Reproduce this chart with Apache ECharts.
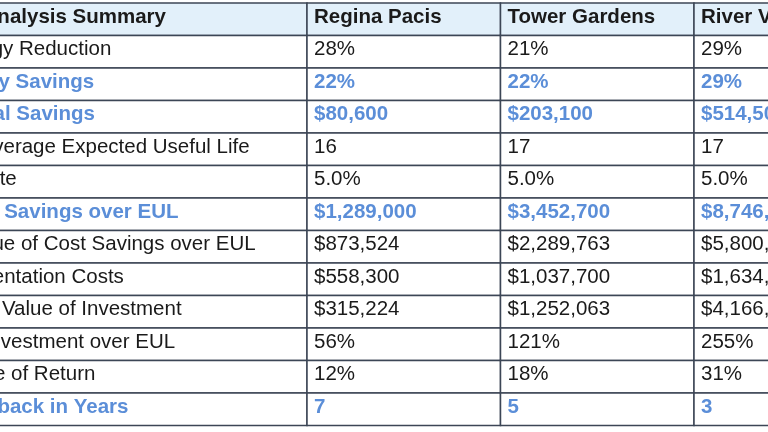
<!DOCTYPE html>
<html>
<head>
<meta charset="utf-8">
<script src="https://cdn.jsdelivr.net/npm/echarts@6/dist/echarts.min.js"></script>
<style>
  html, body { margin: 0; padding: 0; background: #fff; }
  #chart { width: 768px; height: 432px; }
</style>
</head>
<body>
<div id="chart"></div>
<script>
const summaryTitle = "Financial Analysis Summary";
const siteNames = ["Regina Pacis", "Tower Gardens", "River View"];
const rowLabels = [
  "Gross Energy Reduction",
  "Gross Utility Savings",
  "Total Annual Savings",
  "Weighted Average Expected Useful Life",
  "Discount Rate",
  "Cumulative Savings over EUL",
  "Present Value of Cost Savings over EUL",
  "Net Implementation Costs",
  "Net Present Value of Investment",
  "Return on Investment over EUL",
  "Internal Rate of Return",
  "Simple Payback in Years"
];
const rowFormats = ["pct", "pct", "usd", "int", "pct1", "usd", "usd", "usd", "usd", "pct", "pct", "int"];
const highlightRows = [1, 2, 5, 11];
const reginaPacis = [0.28, 0.22, 80600, 16, 0.05, 1289000, 873524, 558300, 315224, 0.56, 0.12, 7];
const towerGardens = [0.21, 0.22, 203100, 17, 0.05, 3452700, 2289763, 1037700, 1252063, 1.21, 0.18, 5];
const riverView = [0.29, 0.29, 514500, 17, 0.05, 8746500, 5800519, 1634300, 4166219, 2.55, 0.31, 3];

const lineColor = "#3c4656";
const headBg = "#e2f0fa";
const blue = "#5b8ed8";
const ink = "#1a1a1a";

function fmt(v, kind) {
  if (kind === "pct") return Math.round(v * 100) + "%";
  if (kind === "pct1") return (v * 100).toFixed(1) + "%";
  if (kind === "usd") return "$" + v.toLocaleString("en-US");
  return String(v);
}

const rowCats = ["head"].concat(rowLabels);
const valueCols = [reginaPacis, towerGardens, riverView];

// label column: [col, row, text, kind]
const labelData = [[0, 0, summaryTitle, "head"]];
rowLabels.forEach((t, i) => labelData.push([0, i + 1, t, highlightRows.includes(i) ? "hl" : "body"]));

const valueData = [];
siteNames.forEach((n, c) => {
  valueData.push([c, 0, n, "head"]);
  valueCols[c].forEach((v, i) => {
    valueData.push([c, i + 1, fmt(v, rowFormats[i]), highlightRows.includes(i) ? "hl" : "body"]);
  });
});

function renderCell(params, api) {
  const c = api.coord([api.value(0), api.value(1)]);
  const s = api.size([1, 1]);
  const item = (params.seriesIndex === 0 ? labelData : valueData)[params.dataIndex];
  const kind = item[3];
  const x0 = c[0] - s[0] / 2;
  const y0 = c[1] - s[1] / 2;
  return {
    type: "group",
    children: [
      {
        type: "rect",
        shape: { x: x0, y: y0, width: s[0], height: s[1] },
        style: { fill: kind === "head" ? headBg : "#fff", stroke: lineColor, lineWidth: 1.5 }
      },
      {
        type: "text",
        style: {
          text: item[2],
          x: x0 + 7,
          y: c[1] - 2,
          align: "left",
          verticalAlign: "middle",
          fontFamily: "Liberation Sans, Arial, sans-serif",
          fontSize: 20.5,
          fontWeight: kind === "body" ? "normal" : "bold",
          fill: kind === "hl" ? blue : ink
        }
      }
    ]
  };
}

const chart = echarts.init(document.getElementById("chart"), null, { renderer: "canvas" });
chart.setOption({
  animation: false,
  backgroundColor: "#fff",
  grid: [
    { left: -119, top: 3, width: 426, height: 422.5, outerBoundsMode: "none", containLabel: false },
    { left: 307, top: 3, width: 580.5, height: 422.5, outerBoundsMode: "none", containLabel: false }
  ],
  xAxis: [
    { type: "category", gridIndex: 0, data: ["label"], show: false },
    { type: "category", gridIndex: 1, data: siteNames, show: false }
  ],
  yAxis: [
    { type: "category", gridIndex: 0, data: rowCats, inverse: true, show: false },
    { type: "category", gridIndex: 1, data: rowCats, inverse: true, show: false }
  ],
  series: [
    {
      type: "custom", xAxisIndex: 0, yAxisIndex: 0, clip: false,
      renderItem: renderCell, data: labelData.map(d => [d[0], d[1]])
    },
    {
      type: "custom", xAxisIndex: 1, yAxisIndex: 1, clip: false,
      renderItem: renderCell, data: valueData.map(d => [d[0], d[1]])
    }
  ]
});
</script>
</body>
</html>
